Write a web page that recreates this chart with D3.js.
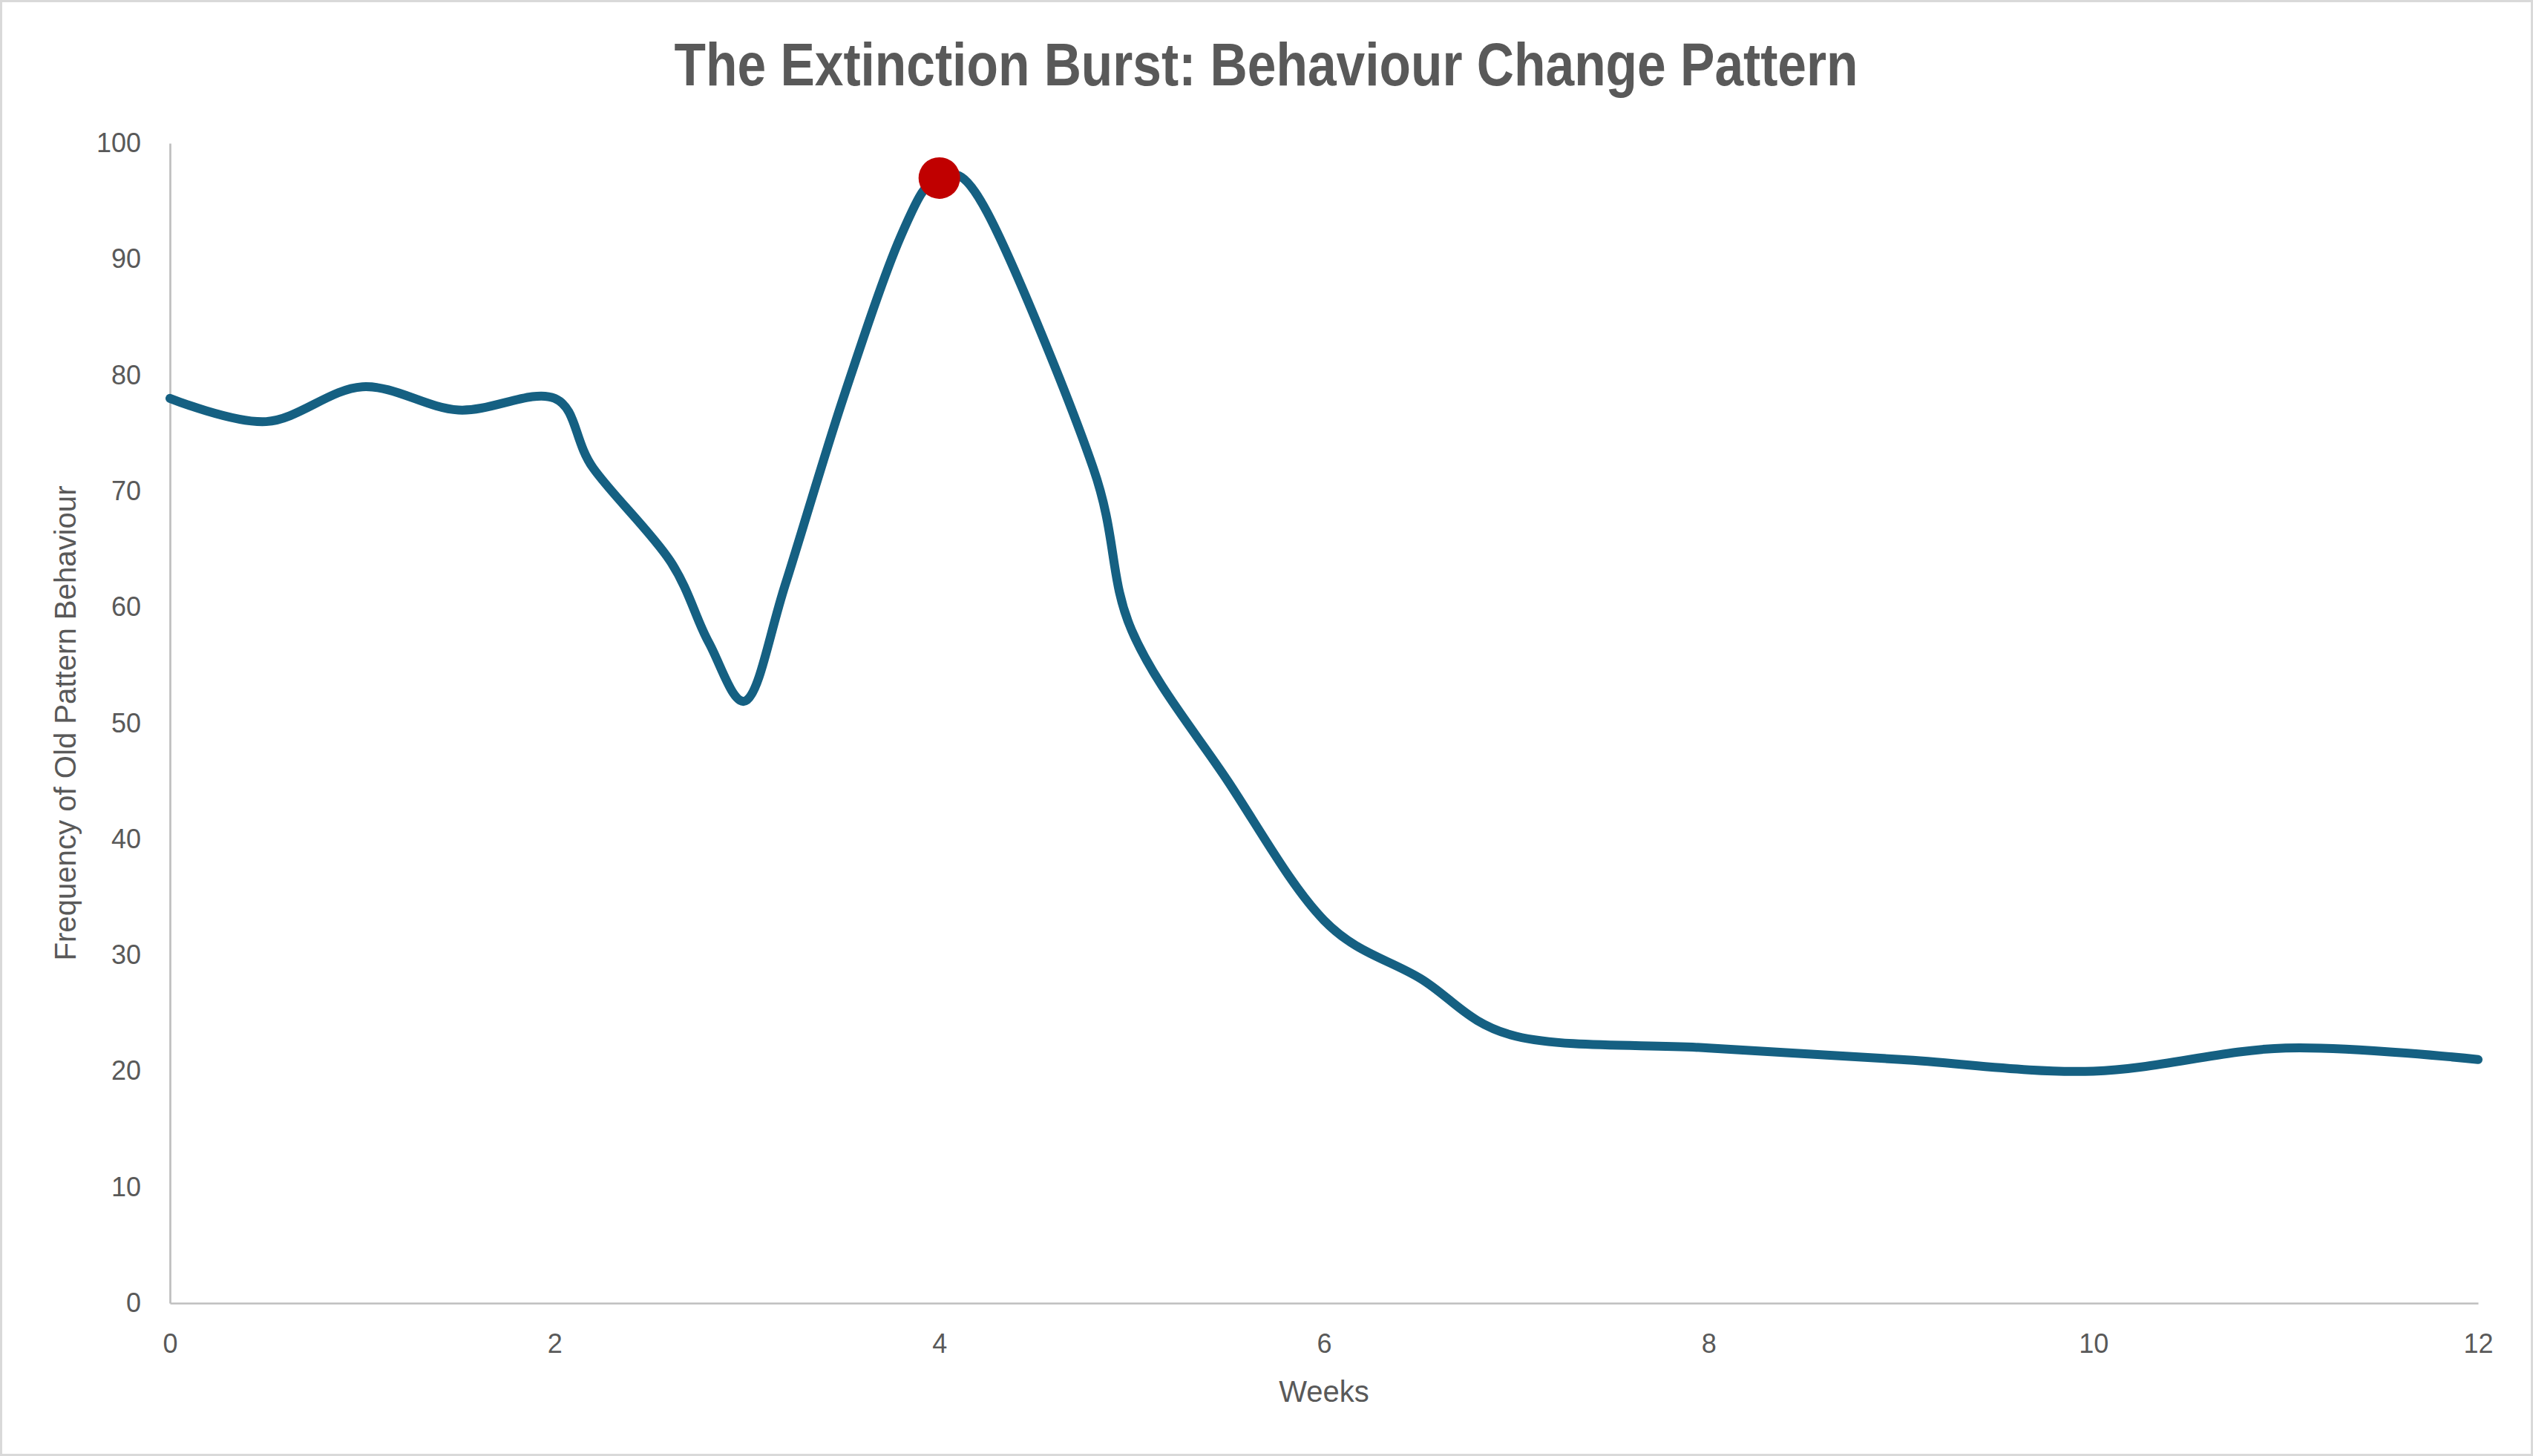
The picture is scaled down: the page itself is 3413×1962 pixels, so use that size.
<!DOCTYPE html>
<html>
<head>
<meta charset="utf-8">
<script src="https://cdn.jsdelivr.net/npm/d3@7"></script>
<style>
  html, body { margin: 0; padding: 0; background: #ffffff; }
  svg { display: block; }
</style>
</head>
<body>
<svg id="chart" width="3413" height="1962"></svg>
<script>
// ---- data ----
const weeks  = [0, 0.5, 1, 1.5, 2, 2.2, 2.6, 2.8, 3, 3.2, 3.5, 3.8, 4, 4.25, 4.8, 5, 5.5, 6, 6.5, 7, 8, 9, 10, 11, 12];
const freq   = [78, 76, 79, 77, 78, 72, 64, 57, 52, 62, 78, 92, 97, 94, 72, 58, 45, 33, 28, 23, 22, 21, 20, 22, 21];
const peakWeek = [4];
const peakFreq = [97];
const xTicks = [0, 2, 4, 6, 8, 10, 12];
const yTicks = [0, 10, 20, 30, 40, 50, 60, 70, 80, 90, 100];
const titleText = "The Extinction Burst: Behaviour Change Pattern";
const xTitle = "Weeks";
const yTitle = "Frequency of Old Pattern Behaviour";

const W = 3413, H = 1962;
const L = 229, R = 3339, T = 193, B = 1756;
const textColor = "#595959";
const axisColor = "#bfbfbf";
const lineColor = "#156082";
const peakColor = "#C00000";
const font = "'Liberation Sans', Arial, sans-serif";

const svg = d3.select("#chart");

// background + border
svg.append("rect").attr("x", 1.5).attr("y", 1.5).attr("width", W - 3).attr("height", H - 3)
  .attr("fill", "#ffffff").attr("stroke", "#d9d9d9").attr("stroke-width", 3);

const x = d3.scaleLinear().domain([0, 12]).range([L, R]);
const y = d3.scaleLinear().domain([0, 100]).range([B, T]);

// Y axis
const yAxis = svg.append("g").attr("transform", `translate(${L},0)`)
  .call(d3.axisLeft(y).tickValues(yTicks).tickSize(0).tickSizeOuter(0).tickPadding(39));
yAxis.select(".domain").attr("stroke", axisColor).attr("stroke-width", 2.7);
yAxis.selectAll("text").attr("fill", textColor).style("font-family", font).style("font-size", "36px");

// X axis
const xAxis = svg.append("g").attr("transform", `translate(0,${B})`)
  .call(d3.axisBottom(x).tickValues(xTicks).tickSize(0).tickSizeOuter(0).tickPadding(41));
xAxis.select(".domain").attr("stroke", axisColor).attr("stroke-width", 2.7);
xAxis.selectAll("text").attr("fill", textColor).style("font-family", font).style("font-size", "36px");

// line
const pts = weeks.map((w, i) => [w, freq[i]]);
const line = d3.line().x(d => x(d[0])).y(d => y(d[1])).curve(d3.curveCardinal.tension(0));
svg.append("path").datum(pts).attr("d", line)
  .attr("fill", "none").attr("stroke", lineColor).attr("stroke-width", 12)
  .attr("stroke-linecap", "round").attr("stroke-linejoin", "round");

// peak marker
svg.selectAll("circle.peak").data(peakWeek.map((w, i) => [w, peakFreq[i]])).enter()
  .append("circle").attr("class", "peak")
  .attr("cx", d => x(d[0])).attr("cy", d => y(d[1])).attr("r", 28)
  .attr("fill", peakColor);

// title
svg.append("text").attr("x", 1706).attr("y", 115).attr("text-anchor", "middle")
  .attr("fill", textColor)
  .style("font-family", "'Liberation Sans Narrow', 'Liberation Sans', Arial, sans-serif")
  .style("font-weight", "bold").style("font-size", "82px")
  .attr("textLength", 1595).attr("lengthAdjust", "spacingAndGlyphs")
  .text(titleText);

// axis titles
svg.append("text").attr("x", (L + R) / 2).attr("y", 1889).attr("text-anchor", "middle")
  .attr("fill", textColor).style("font-family", font).style("font-size", "40px")
  .text(xTitle);

svg.append("text").attr("transform", `translate(102,${(T + B) / 2}) rotate(-90)`)
  .attr("text-anchor", "middle").attr("fill", textColor)
  .style("font-family", font).style("font-size", "40px")
  .attr("textLength", 640).attr("lengthAdjust", "spacingAndGlyphs")
  .text(yTitle);
</script>
</body>
</html>
